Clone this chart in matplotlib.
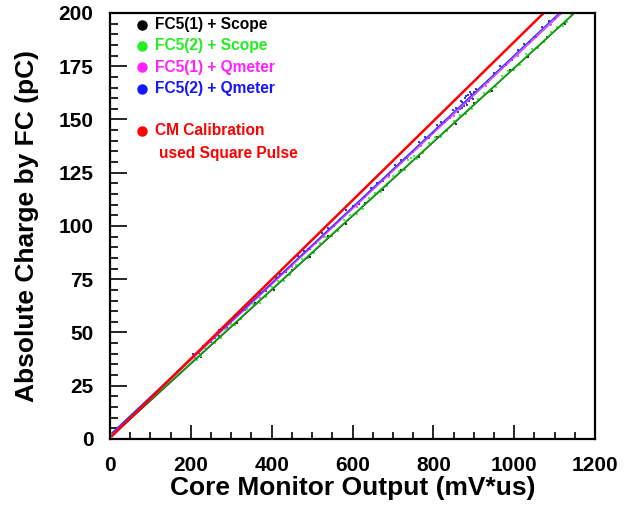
import matplotlib
matplotlib.use("Agg")
import matplotlib.pyplot as plt
from matplotlib.ticker import MultipleLocator

plt.rcParams['font.family'] = ['Liberation Sans', 'DejaVu Sans']
plt.rcParams['font.weight'] = 'bold'

# ---- data ----
blue_x = [205, 220, 240, 260, 280, 300, 320, 345, 370, 395, 420, 450, 480, 510, 540, 570, 600, 630,
          660, 690, 720, 750, 780, 800, 820, 840, 855, 865, 870, 875, 878, 882, 885, 888, 892, 895,
          900, 920, 950, 980, 1010, 1040, 1070, 1100,
          230, 250, 270, 290, 310, 335, 360, 385, 410, 435, 465, 495, 525, 555, 585, 615, 645, 675,
          705, 735, 765, 790, 810, 830, 848, 860, 868, 872, 880, 884, 890, 897, 905, 935, 965, 995,
          1025, 1055, 1085]
blue_y = [39.8, 40.5, 45.3, 47.6, 52.5, 54.9, 59.8, 62.7, 68.6, 71.8, 77.5, 81.5, 88.2, 92.0, 98.9,
          102.8, 109.6, 113.4, 120.3, 124.1, 131.0, 134.7, 141.9, 143.6, 148.9, 150.6, 155.5, 154.8,
          158.4, 156.5, 160.2, 157.6, 161.3, 158.7, 162.0, 159.9, 163.0, 165.1, 171.9, 175.8, 182.5,
          186.4, 193.2, 197.1,
          43.8, 45.7, 51.0, 52.8, 58.3, 60.7, 67.0, 69.6, 76.1, 78.5, 85.9, 89.2, 96.6, 99.9, 107.3,
          110.4, 118.0, 121.1, 128.7, 131.7, 139.4, 141.4, 147.5, 148.6, 154.6, 153.6, 158.9, 155.3,
          161.0, 156.9, 162.7, 159.4, 164.3, 167.4, 175.0, 178.1, 185.6, 188.8, 196.2]
magenta_x = [210, 250, 290, 330, 370, 410, 450, 490, 530, 570, 610, 650, 690, 730, 770, 810, 850,
             890, 930, 970, 1010, 1050, 1090]
magenta_y = [38.1, 46.7, 52.2, 60.9, 66.4, 75.0, 80.6, 89.3, 94.9, 103.5, 109.0, 117.7, 123.2, 131.9,
             137.4, 146.1, 151.6, 160.3, 165.8, 174.6, 180.0, 188.8, 194.2]
green_x = [215, 235, 260, 285, 310, 340, 370, 400, 430, 460, 490, 520, 550, 580, 610, 640, 670, 700,
           730, 745, 760, 790, 820, 850, 880, 910, 940, 970, 1000, 1030, 1060, 1090, 1120, 1140,
           225, 250, 275, 300, 325, 355, 385, 415, 445, 475, 505, 535, 565, 595, 625, 655, 685, 715,
           738, 752, 775, 805, 835, 865, 895, 925, 955, 985, 1015, 1045, 1075, 1105, 1130]
green_y = [37.2, 42.6, 45.0, 51.5, 53.6, 61.0, 64.0, 71.4, 74.4, 81.8, 84.8, 92.2, 95.2, 102.6, 105.6,
           113.0, 116.0, 123.4, 126.4, 131.8, 131.6, 139.0, 142.0, 149.4, 152.4, 159.8, 162.8, 170.2,
           173.2, 180.6, 183.6, 191.0, 194.0, 199.5,
           39.0, 45.4, 47.5, 54.1, 56.2, 63.6, 66.6, 74.0, 77.0, 84.4, 87.4, 94.8, 97.8, 105.2, 108.2,
           115.6, 118.6, 126.0, 131.2, 133.0, 134.2, 141.6, 144.6, 152.0, 155.0, 162.4, 165.4, 172.8,
           175.8, 183.2, 186.2, 193.6, 195.9]
black_x = [225, 270, 315, 360, 405, 450, 495, 540, 585, 630, 675, 720, 765, 810, 855, 900, 945, 990,
           1035, 1080, 1125]
black_y = [38.6, 48.2, 54.3, 63.9, 69.9, 79.5, 85.5, 95.1, 101.1, 110.7, 116.7, 126.3, 132.3, 141.9,
           147.9, 157.6, 163.6, 173.2, 179.2, 188.8, 194.8]

# fit lines (end points)
red_line_x = [5, 1073]
red_line_y = [1.4, 200]
blue_line_x = [5, 1112]
blue_line_y = [2.9, 200]
magenta_line_x = [5, 1118]
magenta_line_y = [2.4, 200]
green_line_x = [5, 1148]
green_line_y = [1.9, 200]
black_line_x = [5, 1150]
black_line_y = [1.4, 200]

legend_labels = ["FC5(1) + Scope", "FC5(2) + Scope", "FC5(1) + Qmeter", "FC5(2) + Qmeter"]
legend_colors = ["black", "#22ee22", "#ff22ff", "#1515ff"]

# ---- figure ----
fig = plt.figure(figsize=(6.26, 5.05), dpi=100)
ax = fig.add_axes([0.1757, 0.1307, 0.7748, 0.8436])

ax.scatter(black_x, black_y, s=2, c='#333333', marker='s', linewidths=0)
ax.scatter(green_x, green_y, s=2, c='#33ff33', marker='s', linewidths=0)
ax.scatter(magenta_x, magenta_y, s=2, c='#ff55ff', marker='s', linewidths=0)
ax.scatter(blue_x, blue_y, s=2.5, c='#3333ff', marker='s', linewidths=0)

ax.plot(black_line_x, black_line_y, color='#333333', lw=0.9)
ax.plot(green_line_x, green_line_y, color='#00bb00', lw=1.0)
ax.plot(magenta_line_x, magenta_line_y, color='#ee33ee', lw=1.0)
ax.plot(blue_line_x, blue_line_y, color='#3333ff', lw=1.0)
ax.plot(red_line_x, red_line_y, color='#ff0000', lw=1.8)

ax.set_xlim(0, 1200)
ax.set_ylim(0, 200)
ax.xaxis.set_major_locator(MultipleLocator(200))
ax.xaxis.set_minor_locator(MultipleLocator(50))
ax.yaxis.set_major_locator(MultipleLocator(25))
ax.yaxis.set_minor_locator(MultipleLocator(5))
ax.tick_params(which='both', direction='in', top=False, right=False, width=1.2, labelsize=15)
ax.tick_params(axis='x', which='major', length=10, pad=12)
ax.tick_params(axis='x', which='minor', length=5)
ax.tick_params(axis='y', which='major', length=12, pad=12)
ax.tick_params(axis='y', which='minor', length=6)
for lab in ax.get_xticklabels() + ax.get_yticklabels():
    lab.set_fontweight('bold')
for sp in ax.spines.values():
    sp.set_linewidth(1.6)

ax.set_xlabel("Core Monitor Output (mV*us)", fontsize=19, fontweight='bold')
ax.set_ylabel("Absolute Charge by FC (pC)", fontsize=19, fontweight='bold')
ax.xaxis.set_label_coords(0.5, -0.088)
ax.yaxis.set_label_coords(-0.146, 0.5)

rows_y = [0.972, 0.923, 0.873, 0.822]
for lab, col, yy in zip(legend_labels, legend_colors, rows_y):
    ax.plot([0.066], [yy], 'o', color=col, ms=6.5, transform=ax.transAxes, clip_on=False)
    ax.text(0.093, yy, lab, color=col, fontsize=11.2, fontweight='bold',
            transform=ax.transAxes, va='center', ha='left')
ax.plot([0.066], [0.723], 'o', color='#ff0000', ms=6.5, transform=ax.transAxes)
ax.text(0.093, 0.723, "CM Calibration", color='#ff0000', fontsize=11.2, fontweight='bold',
        transform=ax.transAxes, va='center', ha='left')
ax.text(0.101, 0.671, "used Square Pulse", color='#ff0000', fontsize=11.2, fontweight='bold',
        transform=ax.transAxes, va='center', ha='left')

fig.savefig("out.png", dpi=100)
